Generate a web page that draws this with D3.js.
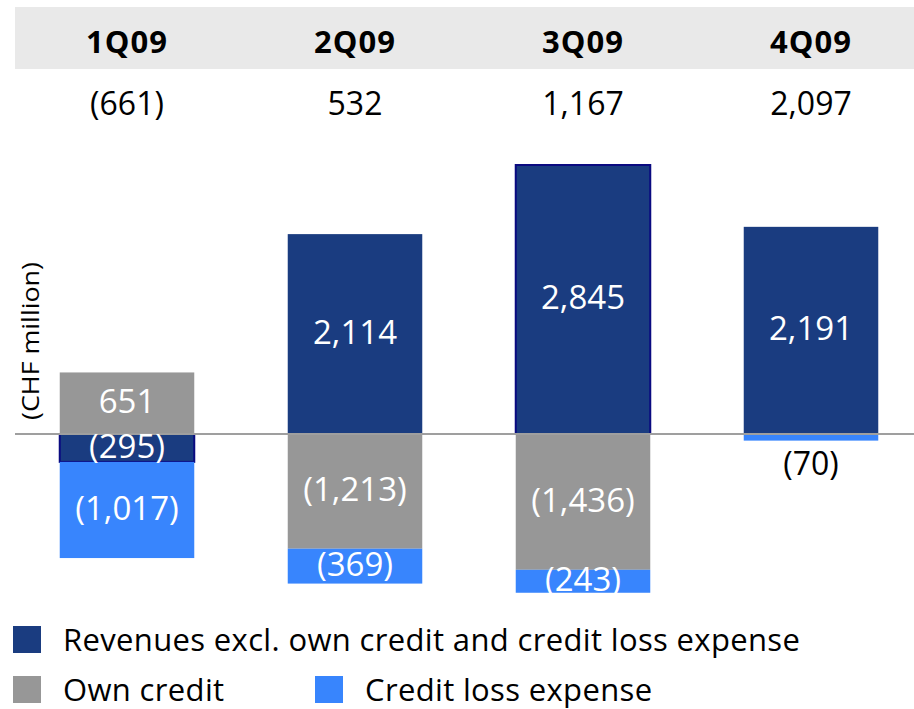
<!DOCTYPE html>
<html>
<head>
<meta charset="utf-8">
<script src="https://cdn.jsdelivr.net/npm/d3@7"></script>
<style>
  html, body { margin: 0; padding: 0; background: #fff; }
  svg { display: block; font-family: "Open Sans", "Noto Sans", sans-serif; }
</style>
</head>
<body>
<svg id="chart" width="914" height="709"></svg>
<script>
// Quarters and per-quarter totals (row under the header)
const quarters = ['1Q09', '2Q09', '3Q09', '4Q09'];
const totals = ['(661)', '532', '1,167', '2,097'];

// Stack components, CHF million
const revenues = [-295, 2114, 2845, 2191];
const ownCredit = [651, -1213, -1436, 0];
const creditLoss = [-1017, -369, -243, -70];

const seriesKeys = ['rev', 'own', 'loss'];
const seriesNames = ['Revenues excl. own credit and credit loss expense', 'Own credit', 'Credit loss expense'];
const colors = { rev: '#1a3c80', own: '#979797', loss: '#3885fd' };

// revenue bars drawn with a dark navy outline in the original
const outlined = new Set(['1Q09', '3Q09']);

const svg = d3.select('#chart');
const W = 914;

const rows = quarters.map((q, i) => ({ q, rev: revenues[i], own: ownCredit[i], loss: creditLoss[i] }));

const stack = d3.stack().keys(seriesKeys).offset(d3.stackOffsetDiverging);
const layers = stack(rows);

const x = d3.scaleBand().domain(quarters).range([13, 925]).paddingInner(0.41).paddingOuter(0.205);
const y = d3.scaleLinear().domain([0, 2845]).range([434, 165]);

const fmt = v => {
  const s = d3.format(',')(Math.abs(v));
  return v < 0 ? `(${s})` : s;
};

// header band
svg.append('rect')
  .attr('x', 15).attr('y', 7).attr('width', W - 15).attr('height', 62)
  .attr('fill', '#e9e9e9');

svg.append('g').selectAll('text').data(quarters).join('text')
  .attr('x', d => x(d) + x.bandwidth() / 2)
  .attr('y', 53)
  .attr('text-anchor', 'middle')
  .attr('font-size', 31).attr('font-weight', 'bold')
  .attr('letter-spacing', 1)
  .attr('fill', '#000')
  .text(d => d);

svg.append('g').selectAll('text').data(totals).join('text')
  .attr('x', (d, i) => x(quarters[i]) + x.bandwidth() / 2)
  .attr('y', 115)
  .attr('text-anchor', 'middle')
  .attr('font-size', 32)
  .attr('fill', '#000')
  .text(d => d);

// bars
const gBars = svg.append('g');
layers.forEach(layer => {
  const key = layer.key;
  gBars.append('g').selectAll('rect').data(layer.filter(d => d[1] - d[0] !== 0)).join('rect')
    .attr('x', d => x(d.data.q))
    .attr('width', x.bandwidth())
    .attr('y', d => y(Math.max(d[0], d[1])))
    .attr('height', d => Math.abs(y(d[0]) - y(d[1])))
    .attr('fill', colors[key])
    .attr('stroke', d => key === 'rev' && outlined.has(d.data.q) ? '#0a0a80' : 'none')
    .attr('stroke-width', 2);
});

// baseline
svg.append('line')
  .attr('x1', 15).attr('x2', W)
  .attr('y1', y(0)).attr('y2', y(0))
  .attr('stroke', '#9f9f9f').attr('stroke-width', 2);

// segment labels; small segments get a black label under the bar
const gLbl = svg.append('g').attr('font-size', 33).attr('text-anchor', 'middle');
layers.forEach(layer => {
  layer.forEach(d => {
    const v = d.data[layer.key];
    if (v === 0) return;
    const cx = x(d.data.q) + x.bandwidth() / 2;
    const h = Math.abs(y(d[0]) - y(d[1]));
    if (h < 20) {
      gLbl.append('text')
        .attr('x', cx).attr('y', y(Math.min(d[0], d[1])) + 34)
        .attr('font-size', 32)
        .attr('fill', '#000')
        .text(fmt(v));
    } else {
      gLbl.append('text')
        .attr('x', cx).attr('y', (y(d[0]) + y(d[1])) / 2)
        .attr('dy', '0.3em')
        .attr('fill', '#fff')
        .text(fmt(v));
    }
  });
});

// axis title
svg.append('text')
  .attr('transform', 'translate(39,341) rotate(-90)')
  .attr('text-anchor', 'middle')
  .attr('font-size', 24)
  .attr('textLength', 158)
  .attr('lengthAdjust', 'spacingAndGlyphs')
  .attr('fill', '#000')
  .text('(CHF million)');

// legend
const legendItems = [
  { key: 'rev', x: 13, y: 626 },
  { key: 'own', x: 13, y: 676 },
  { key: 'loss', x: 315, y: 676 }
];
const gLeg = svg.append('g');
legendItems.forEach(it => {
  const i = seriesKeys.indexOf(it.key);
  gLeg.append('rect')
    .attr('x', it.x).attr('y', it.y).attr('width', 28).attr('height', 27)
    .attr('fill', colors[it.key]);
  gLeg.append('text')
    .attr('x', it.x + 50).attr('y', it.y + 25)
    .attr('font-size', 31)
    .attr('letter-spacing', 0.35)
    .attr('fill', '#000')
    .text(seriesNames[i]);
});
</script>
</body>
</html>
